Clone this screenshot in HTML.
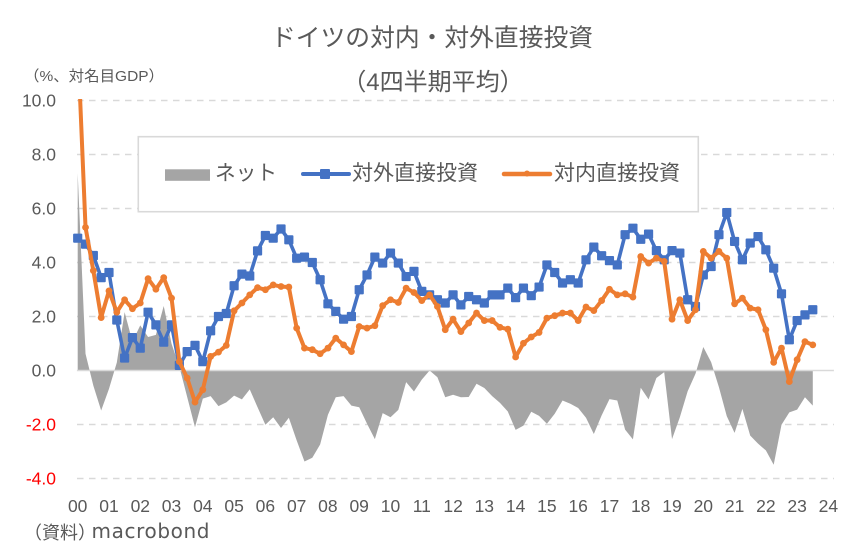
<!DOCTYPE html>
<html>
<head>
<meta charset="utf-8">
<style>
html,body{margin:0;padding:0;background:#fff;}
body{width:862px;height:560px;overflow:hidden;}
svg{display:block;}
text{font-family:"Liberation Sans","Noto Sans CJK JP",sans-serif;}
.cj{font-family:"Liberation Sans","Noto Sans CJK JP",sans-serif;}
.dv{font-family:"DejaVu Sans","Liberation Sans",sans-serif;}
</style>
</head>
<body>
<svg width="862" height="560" viewBox="0 0 862 560" xmlns="http://www.w3.org/2000/svg">
<defs>
  <g id="b" transform="scale(.127877,-.037037)"><rect x="-4.6" y="-4.6" width="9.2" height="9.2" rx="1" fill="#4472C4"/></g>
  <g id="o" transform="scale(.127877,-.037037)"><circle cx="0" cy="0" r="3.4" fill="#ED7D31"/></g>
  <clipPath id="pc" clipPathUnits="userSpaceOnUse"><rect x="60" y="99" width="790" height="400"/></clipPath>
</defs>

<!-- Titles -->
<text x="432" y="46" text-anchor="middle" font-size="24.5" fill="#595959" class="cj" textLength="322" lengthAdjust="spacingAndGlyphs">ドイツの対内・対外直接投資</text>
<text x="433" y="90" text-anchor="middle" font-size="24" fill="#595959" class="cj">（4四半期平均）</text>

<text x="24" y="81" font-size="15" fill="#595959" class="cj" textLength="140" lengthAdjust="spacingAndGlyphs">（%、対名目GDP）</text>

<!-- gridlines -->
<g stroke="#D9D9D9" stroke-width="1.4" stroke-dasharray="6.5,5.5" fill="none">
  <line x1="77" y1="100.5" x2="834" y2="100.5"/>
  <line x1="77" y1="154.5" x2="834" y2="154.5"/>
  <line x1="77" y1="208.5" x2="834" y2="208.5"/>
  <line x1="77" y1="262.5" x2="834" y2="262.5"/>
  <line x1="77" y1="316.5" x2="834" y2="316.5"/>
  <line x1="77" y1="424.5" x2="834" y2="424.5"/>
  <line x1="77" y1="478.5" x2="834" y2="478.5"/>
</g>

<!-- y labels -->
<g font-size="17.5" text-anchor="end" fill="#595959">
  <text x="56" y="106.5">10.0</text>
  <text x="56" y="160.5">8.0</text>
  <text x="56" y="214.5">6.0</text>
  <text x="56" y="268.5">4.0</text>
  <text x="56" y="322.5">2.0</text>
  <text x="56" y="376.5">0.0</text>
  <text x="56" y="430.5" fill="#FF0000">-2.0</text>
  <text x="56" y="484.5" fill="#FF0000">-4.0</text>
</g>

<!-- x labels -->
<g font-size="17.5" text-anchor="middle" fill="#595959">
  <text x="77.7" y="512">00</text><text x="109" y="512">01</text><text x="140.3" y="512">02</text><text x="171.5" y="512">03</text><text x="202.8" y="512">04</text><text x="234.1" y="512">05</text><text x="265.4" y="512">06</text><text x="296.7" y="512">07</text><text x="327.9" y="512">08</text><text x="359.2" y="512">09</text><text x="390.5" y="512">10</text><text x="421.8" y="512">11</text><text x="453.1" y="512">12</text><text x="484.3" y="512">13</text><text x="515.6" y="512">14</text><text x="546.9" y="512">15</text><text x="578.2" y="512">16</text><text x="609.5" y="512">17</text><text x="640.7" y="512">18</text><text x="672" y="512">19</text><text x="703.3" y="512">20</text><text x="734.6" y="512">21</text><text x="765.9" y="512">22</text><text x="797.1" y="512">23</text><text x="828.4" y="512">24</text>
</g>

<text x="24" y="539" font-size="18" fill="#595959" class="cj">（資料）</text>
<text x="91.5" y="538" font-size="20" fill="#595959" class="dv" textLength="118" lengthAdjust="spacing">macrobond</text>

<!-- data -->
<g clip-path="url(#pc)">
<g transform="translate(77.7,370.5) scale(7.82,-27)">
  <polygon fill="#A5A5A5" points="0,0 0,7.3 1,0.62 2,-0.56 3,-1.48 4,-0.68 5,0.29 6,2.16 7,1.07 8,1.67 9,1.24 10,1.32 11,2.39 12,0.99 13,0.14 14,-0.98 15,-2.1 16,-1.04 17,-0.95 18,-1.32 19,-1.18 20,-0.93 21,-1.07 22,-0.7 23,-1.36 24,-2.01 25,-1.73 26,-2.13 27,-1.75 28,-2.59 29,-3.37 30,-3.23 31,-2.74 32,-1.64 33,-0.99 34,-0.95 35,-1.3 36,-1.36 37,-1.97 38,-2.54 39,-1.58 40,-1.73 41,-1.46 42,-0.43 43,-0.78 44,-0.34 45,0 46,-0.25 47,-0.99 48,-0.9 49,-0.99 50,-0.98 51,-0.49 52,-0.65 53,-0.95 54,-1.2 55,-1.52 56,-2.2 57,-2.04 58,-1.53 59,-1.68 60,-1.97 61,-1.6 62,-1.11 63,-1.23 64,-1.39 65,-1.75 66,-2.35 67,-1.66 68,-1.06 69,-1.11 70,-2.19 71,-2.55 72,-0.64 73,-1.07 74,-0.28 75,-0.06 76,-2.54 77,-1.73 78,-0.77 79,-0.12 80,0.87 81,0.31 82,-0.62 83,-1.69 84,-2.31 85,-1.42 86,-2.41 87,-2.71 88,-2.96 89,-3.49 90,-2.01 91,-1.55 92,-1.45 93,-0.99 94,-1.3 94,0"/>
  <line x1="-0.1" y1="0" x2="96.7" y2="0" stroke="#D9D9D9" stroke-width="1.6" vector-effect="non-scaling-stroke"/>

  <polyline fill="none" stroke="#4472C4" stroke-width="3.6" stroke-linejoin="round" stroke-linecap="round" vector-effect="non-scaling-stroke" points="0,4.9 1,4.68 2,4.26 3,3.44 4,3.63 5,1.87 6,0.46 7,1.22 8,0.83 9,2.16 10,1.69 11,1.05 12,1.69 13,0.19 14,0.7 15,0.93 16,0.33 17,1.47 18,2.0 19,2.11 20,3.14 21,3.57 22,3.5 23,4.43 24,5.0 25,4.9 26,5.24 27,4.84 28,4.16 29,4.2 30,4.0 31,3.36 32,2.47 33,2.19 34,1.9 35,2.0 36,2.99 37,3.54 38,4.2 39,3.98 40,4.35 41,3.98 42,3.48 43,3.67 44,2.93 45,2.8 46,2.62 47,2.5 48,2.8 49,2.43 50,2.74 51,2.62 52,2.5 53,2.8 54,2.8 55,3.05 56,2.7 57,3.05 58,2.77 59,3.09 60,3.91 61,3.63 62,3.24 63,3.36 64,3.24 65,4.1 66,4.57 67,4.25 68,4.07 69,3.91 70,5.03 71,5.27 72,4.86 73,5.05 74,4.44 75,4.1 76,4.44 77,4.35 78,2.62 79,2.37 80,3.54 81,3.85 82,5.03 83,5.85 84,4.78 85,4.1 86,4.72 87,4.96 88,4.47 89,3.79 90,2.84 91,1.14 92,1.85 93,2.06 94,2.25"/>
  <g>
    <use href="#b" x="0" y="4.9"/><use href="#b" x="1" y="4.68"/><use href="#b" x="2" y="4.26"/><use href="#b" x="3" y="3.44"/><use href="#b" x="4" y="3.63"/><use href="#b" x="5" y="1.87"/><use href="#b" x="6" y="0.46"/><use href="#b" x="7" y="1.22"/><use href="#b" x="8" y="0.83"/><use href="#b" x="9" y="2.16"/><use href="#b" x="10" y="1.69"/><use href="#b" x="11" y="1.05"/><use href="#b" x="12" y="1.69"/><use href="#b" x="13" y="0.19"/><use href="#b" x="14" y="0.7"/><use href="#b" x="15" y="0.93"/><use href="#b" x="16" y="0.33"/><use href="#b" x="17" y="1.47"/><use href="#b" x="18" y="2.0"/><use href="#b" x="19" y="2.11"/><use href="#b" x="20" y="3.14"/><use href="#b" x="21" y="3.57"/><use href="#b" x="22" y="3.5"/><use href="#b" x="23" y="4.43"/><use href="#b" x="24" y="5.0"/><use href="#b" x="25" y="4.9"/><use href="#b" x="26" y="5.24"/><use href="#b" x="27" y="4.84"/><use href="#b" x="28" y="4.16"/><use href="#b" x="29" y="4.2"/><use href="#b" x="30" y="4.0"/><use href="#b" x="31" y="3.36"/><use href="#b" x="32" y="2.47"/><use href="#b" x="33" y="2.19"/><use href="#b" x="34" y="1.9"/><use href="#b" x="35" y="2.0"/><use href="#b" x="36" y="2.99"/><use href="#b" x="37" y="3.54"/><use href="#b" x="38" y="4.2"/><use href="#b" x="39" y="3.98"/><use href="#b" x="40" y="4.35"/><use href="#b" x="41" y="3.98"/><use href="#b" x="42" y="3.48"/><use href="#b" x="43" y="3.67"/><use href="#b" x="44" y="2.93"/><use href="#b" x="45" y="2.8"/><use href="#b" x="46" y="2.62"/><use href="#b" x="47" y="2.5"/><use href="#b" x="48" y="2.8"/><use href="#b" x="49" y="2.43"/><use href="#b" x="50" y="2.74"/><use href="#b" x="51" y="2.62"/><use href="#b" x="52" y="2.5"/><use href="#b" x="53" y="2.8"/><use href="#b" x="54" y="2.8"/><use href="#b" x="55" y="3.05"/><use href="#b" x="56" y="2.7"/><use href="#b" x="57" y="3.05"/><use href="#b" x="58" y="2.77"/><use href="#b" x="59" y="3.09"/><use href="#b" x="60" y="3.91"/><use href="#b" x="61" y="3.63"/><use href="#b" x="62" y="3.24"/><use href="#b" x="63" y="3.36"/><use href="#b" x="64" y="3.24"/><use href="#b" x="65" y="4.1"/><use href="#b" x="66" y="4.57"/><use href="#b" x="67" y="4.25"/><use href="#b" x="68" y="4.07"/><use href="#b" x="69" y="3.91"/><use href="#b" x="70" y="5.03"/><use href="#b" x="71" y="5.27"/><use href="#b" x="72" y="4.86"/><use href="#b" x="73" y="5.05"/><use href="#b" x="74" y="4.44"/><use href="#b" x="75" y="4.1"/><use href="#b" x="76" y="4.44"/><use href="#b" x="77" y="4.35"/><use href="#b" x="78" y="2.62"/><use href="#b" x="79" y="2.37"/><use href="#b" x="80" y="3.54"/><use href="#b" x="81" y="3.85"/><use href="#b" x="82" y="5.03"/><use href="#b" x="83" y="5.85"/><use href="#b" x="84" y="4.78"/><use href="#b" x="85" y="4.1"/><use href="#b" x="86" y="4.72"/><use href="#b" x="87" y="4.96"/><use href="#b" x="88" y="4.47"/><use href="#b" x="89" y="3.79"/><use href="#b" x="90" y="2.84"/><use href="#b" x="91" y="1.14"/><use href="#b" x="92" y="1.85"/><use href="#b" x="93" y="2.06"/><use href="#b" x="94" y="2.25"/>
  </g>

  <polyline fill="none" stroke="#ED7D31" stroke-width="4" stroke-linejoin="round" stroke-linecap="round" vector-effect="non-scaling-stroke" points="0,12.2 1,5.3 2,3.7 3,1.96 4,2.95 5,2.16 6,2.62 7,2.29 8,2.5 9,3.4 10,3.01 11,3.44 12,2.68 13,0.33 14,-0.28 15,-1.17 16,-0.71 17,0.52 18,0.68 19,0.93 20,2.21 21,2.5 22,2.8 23,3.07 24,2.99 25,3.17 26,3.11 27,3.09 28,1.57 29,0.83 30,0.77 31,0.62 32,0.83 33,1.2 34,0.95 35,0.7 36,1.63 37,1.57 38,1.66 39,2.4 40,2.62 41,2.52 42,3.05 43,2.89 44,2.59 45,2.8 46,2.37 47,1.51 48,1.9 49,1.44 50,1.76 51,2.13 52,1.85 53,1.85 54,1.6 55,1.53 56,0.5 57,1.01 58,1.24 59,1.41 60,1.94 61,2.03 62,2.13 63,2.13 64,1.85 65,2.35 66,2.22 67,2.59 68,3.01 69,2.8 70,2.84 71,2.72 72,4.22 73,3.98 74,4.16 75,4.04 76,1.9 77,2.62 78,1.85 79,2.25 80,4.41 81,4.16 82,4.41 83,4.16 84,2.47 85,2.68 86,2.31 87,2.25 88,1.51 89,0.3 90,0.83 91,-0.41 92,0.4 93,1.07 94,0.95"/>
  <g>
    <use href="#o" x="1" y="5.3"/><use href="#o" x="2" y="3.7"/><use href="#o" x="3" y="1.96"/><use href="#o" x="4" y="2.95"/><use href="#o" x="5" y="2.16"/><use href="#o" x="6" y="2.62"/><use href="#o" x="7" y="2.29"/><use href="#o" x="8" y="2.5"/><use href="#o" x="9" y="3.4"/><use href="#o" x="10" y="3.01"/><use href="#o" x="11" y="3.44"/><use href="#o" x="12" y="2.68"/><use href="#o" x="13" y="0.33"/><use href="#o" x="14" y="-0.28"/><use href="#o" x="15" y="-1.17"/><use href="#o" x="16" y="-0.71"/><use href="#o" x="17" y="0.52"/><use href="#o" x="18" y="0.68"/><use href="#o" x="19" y="0.93"/><use href="#o" x="20" y="2.21"/><use href="#o" x="21" y="2.5"/><use href="#o" x="22" y="2.8"/><use href="#o" x="23" y="3.07"/><use href="#o" x="24" y="2.99"/><use href="#o" x="25" y="3.17"/><use href="#o" x="26" y="3.11"/><use href="#o" x="27" y="3.09"/><use href="#o" x="28" y="1.57"/><use href="#o" x="29" y="0.83"/><use href="#o" x="30" y="0.77"/><use href="#o" x="31" y="0.62"/><use href="#o" x="32" y="0.83"/><use href="#o" x="33" y="1.2"/><use href="#o" x="34" y="0.95"/><use href="#o" x="35" y="0.7"/><use href="#o" x="36" y="1.63"/><use href="#o" x="37" y="1.57"/><use href="#o" x="38" y="1.66"/><use href="#o" x="39" y="2.4"/><use href="#o" x="40" y="2.62"/><use href="#o" x="41" y="2.52"/><use href="#o" x="42" y="3.05"/><use href="#o" x="43" y="2.89"/><use href="#o" x="44" y="2.59"/><use href="#o" x="45" y="2.8"/><use href="#o" x="46" y="2.37"/><use href="#o" x="47" y="1.51"/><use href="#o" x="48" y="1.9"/><use href="#o" x="49" y="1.44"/><use href="#o" x="50" y="1.76"/><use href="#o" x="51" y="2.13"/><use href="#o" x="52" y="1.85"/><use href="#o" x="53" y="1.85"/><use href="#o" x="54" y="1.6"/><use href="#o" x="55" y="1.53"/><use href="#o" x="56" y="0.5"/><use href="#o" x="57" y="1.01"/><use href="#o" x="58" y="1.24"/><use href="#o" x="59" y="1.41"/><use href="#o" x="60" y="1.94"/><use href="#o" x="61" y="2.03"/><use href="#o" x="62" y="2.13"/><use href="#o" x="63" y="2.13"/><use href="#o" x="64" y="1.85"/><use href="#o" x="65" y="2.35"/><use href="#o" x="66" y="2.22"/><use href="#o" x="67" y="2.59"/><use href="#o" x="68" y="3.01"/><use href="#o" x="69" y="2.8"/><use href="#o" x="70" y="2.84"/><use href="#o" x="71" y="2.72"/><use href="#o" x="72" y="4.22"/><use href="#o" x="73" y="3.98"/><use href="#o" x="74" y="4.16"/><use href="#o" x="75" y="4.04"/><use href="#o" x="76" y="1.9"/><use href="#o" x="77" y="2.62"/><use href="#o" x="78" y="1.85"/><use href="#o" x="79" y="2.25"/><use href="#o" x="80" y="4.41"/><use href="#o" x="81" y="4.16"/><use href="#o" x="82" y="4.41"/><use href="#o" x="83" y="4.16"/><use href="#o" x="84" y="2.47"/><use href="#o" x="85" y="2.68"/><use href="#o" x="86" y="2.31"/><use href="#o" x="87" y="2.25"/><use href="#o" x="88" y="1.51"/><use href="#o" x="89" y="0.3"/><use href="#o" x="90" y="0.83"/><use href="#o" x="91" y="-0.41"/><use href="#o" x="92" y="0.4"/><use href="#o" x="93" y="1.07"/><use href="#o" x="94" y="0.95"/>
  </g>
</g>
</g>

<!-- legend -->
<rect x="138.3" y="136.7" width="560" height="75" fill="#FFFFFF" stroke="#D9D9D9" stroke-width="1.6"/>
<rect x="165" y="169.3" width="45" height="11.5" fill="#A5A5A5"/>
<text x="215" y="180" font-size="21" fill="#595959" class="cj" textLength="62" lengthAdjust="spacingAndGlyphs">ネット</text>
<line x1="303" y1="174" x2="349" y2="174" stroke="#4472C4" stroke-width="4" stroke-linecap="round"/>
<rect x="320" y="169" width="10" height="10" rx="1" fill="#4472C4"/>
<text x="352" y="180" font-size="21" fill="#595959" class="cj" textLength="126" lengthAdjust="spacingAndGlyphs">対外直接投資</text>
<line x1="504" y1="174" x2="550" y2="174" stroke="#ED7D31" stroke-width="4.5" stroke-linecap="round"/>
<circle cx="527" cy="173.5" r="3" fill="#ED7D31"/>
<text x="554" y="180" font-size="21" fill="#595959" class="cj" textLength="126" lengthAdjust="spacingAndGlyphs">対内直接投資</text>
</svg>
</body>
</html>
